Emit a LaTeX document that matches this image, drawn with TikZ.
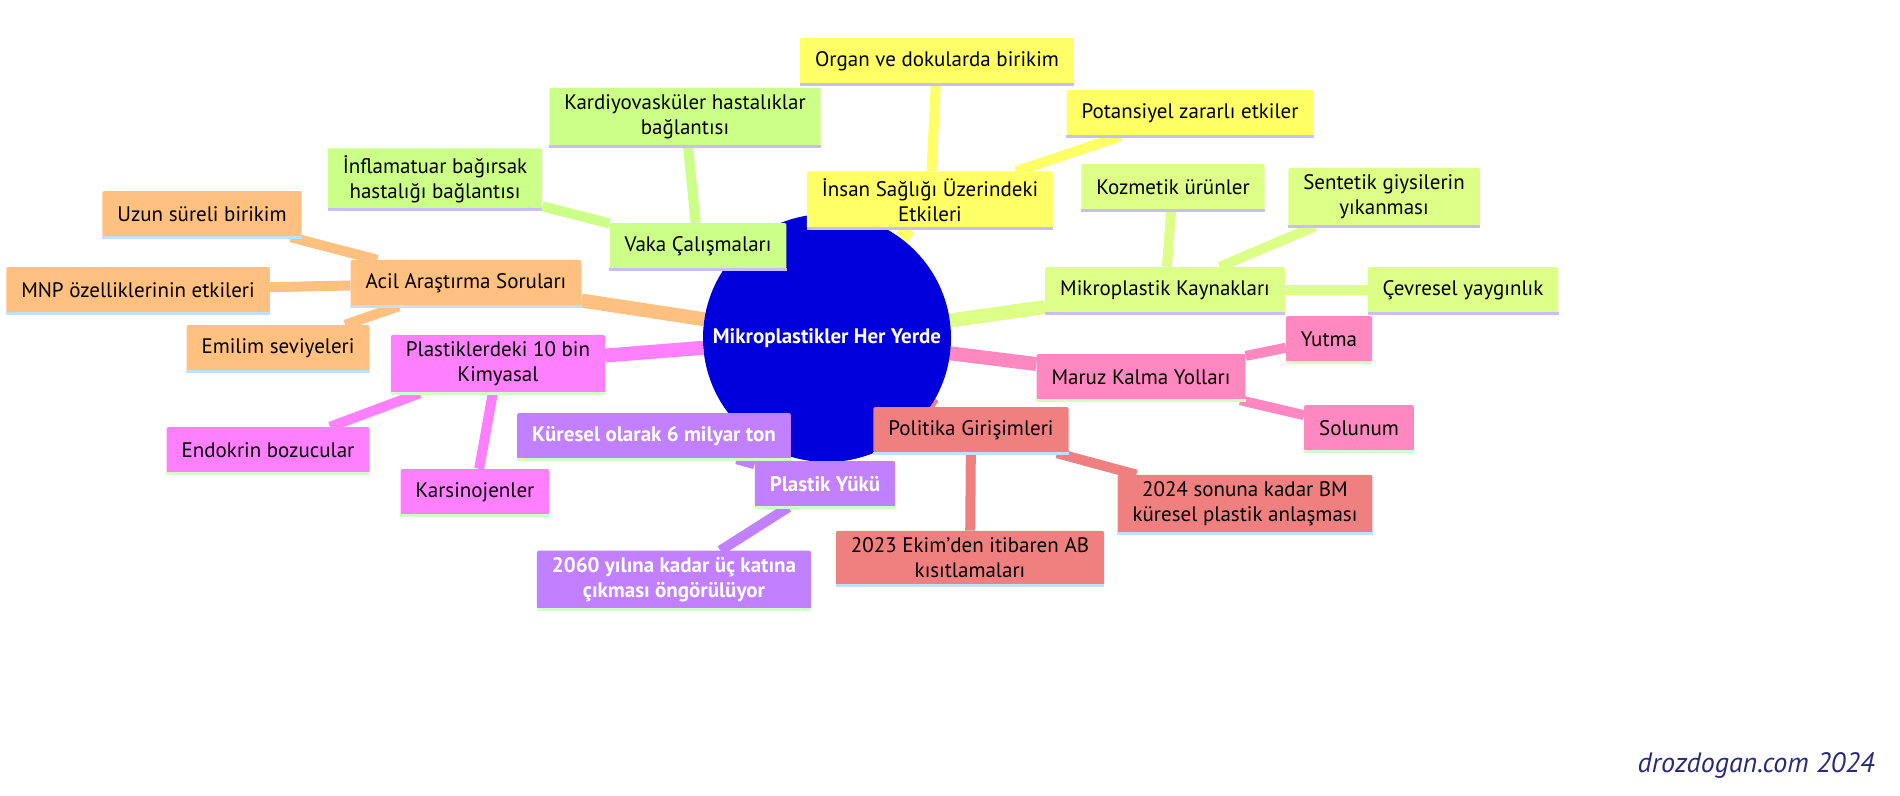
\documentclass[tikz,border=0pt]{standalone}
\usepackage{fontspec}
\setmainfont{PT Sans}
\usetikzlibrary{positioning}
\pgfdeclarelayer{bg}\pgfsetlayers{bg,main}
\definecolor{rootblue}{RGB}{0,0,221}
\definecolor{yel}{RGB}{255,255,102}
\definecolor{grn}{RGB}{204,255,136}
\definecolor{lim}{RGB}{221,255,136}
\definecolor{ora}{RGB}{255,192,128}
\definecolor{mag}{RGB}{255,128,255}
\definecolor{pur}{RGB}{192,128,255}
\definecolor{sal}{RGB}{240,128,128}
\definecolor{rose}{RGB}{255,136,192}
\definecolor{navy}{RGB}{40,40,120}
\definecolor{lav}{RGB}{200,190,255}
\definecolor{sky}{RGB}{190,225,255}
\definecolor{mint}{RGB}{210,255,200}

\begin{document}
\begin{tikzpicture}[x=1pt,y=-1pt,
    every node/.style={font=\fontsize{21}{25}\selectfont},
    box/.style={fill=#1,rounded corners=2pt,align=center,minimum height=46pt,inner xsep=15pt,inner ysep=7pt},
    wbox/.style={box=#1,text=white,font=\fontsize{21}{25}\selectfont\bfseries},
    root node/.style={circle,fill=rootblue,minimum size=248pt,text=white,font=\fontsize{21}{25}\selectfont\bfseries},
    main edge/.style={line width=14pt,draw=#1},
    leaf edge/.style={line width=10pt,draw=#1}]
  \useasboundingbox (0,0) rectangle (1900,795);

  % nodes
  \node[root node] (root) at (827,338) {Mikroplastikler Her Yerde};

  \node[box=yel] (saglik) at (930,200) {İnsan Sağlığı Üzerindeki\\Etkileri};
  \node[box=yel] (organ) at (937,61) {Organ ve dokularda birikim};
  \node[box=yel] (zarar) at (1190,113) {Potansiyel zararlı etkiler};

  \node[box=grn] (vaka) at (698,246) {Vaka Çalışmaları};
  \node[box=grn] (kardiyo) at (685,117) {Kardiyovasküler hastalıklar\\bağlantısı};
  \node[box=grn] (bagirsak) at (435,179) {İnflamatuar bağırsak\\hastalığı bağlantısı};

  \node[box=ora] (acil) at (466,283) {Acil Araştırma Soruları};
  \node[box=ora] (uzun) at (202,214) {Uzun süreli birikim};
  \node[box=ora] (mnp) at (138,290) {MNP özelliklerinin etkileri};
  \node[box=ora] (emilim) at (278,348) {Emilim seviyeleri};

  \node[box=mag] (kimya) at (498,364) {Plastiklerdeki 10 bin\\Kimyasal};
  \node[box=mag] (endo) at (268,450) {Endokrin bozucular};
  \node[box=mag] (karsi) at (475,492) {Karsinojenler};

  \node[wbox=pur] (yuk) at (825,484) {Plastik Yükü};
  \node[wbox=pur] (kuresel) at (654,436) {Küresel olarak 6 milyar ton};
  \node[wbox=pur] (uckat) at (674,580) {2060 yılına kadar üç katına\\çıkması öngörülüyor};

  \node[box=sal] (politika) at (971,430) {Politika Girişimleri};
  \node[box=sal] (ab) at (970,558) {2023 Ekim'den itibaren AB\\kısıtlamaları};
  \node[box=sal] (bm) at (1245,504) {2024 sonuna kadar BM\\küresel plastik anlaşması};

  \node[box=rose] (maruz) at (1141,377) {Maruz Kalma Yolları};
  \node[box=rose] (yutma) at (1329,339) {Yutma};
  \node[box=rose] (solunum) at (1359,428) {Solunum};

  \node[box=lim] (kaynak) at (1165,290) {Mikroplastik Kaynakları};
  \node[box=lim] (kozmetik) at (1173,187) {Kozmetik ürünler};
  \node[box=lim] (giysi) at (1384,197) {Sentetik giysilerin\\yıkanması};
  \node[box=lim] (cevre) at (1463,290) {Çevresel yaygınlık};

  \node[font=\fontsize{28}{32}\selectfont\itshape,text=navy,anchor=south east] (imza) at (1878,782) {drozdogan.com 2024};

  % underlines
  \foreach \n/\c in {saglik/lav,organ/lav,zarar/lav,vaka/lav,kardiyo/lav,bagirsak/lav,
      acil/sky,uzun/sky,mnp/sky,emilim/sky,kimya/mint,endo/mint,karsi/mint,
      yuk/mint,kuresel/mint,uckat/mint,politika/sky,ab/sky,bm/sky,
      maruz/mint,yutma/mint,solunum/mint,kaynak/lav,kozmetik/lav,giysi/lav,cevre/lav}
    \draw[line width=3pt,draw=\c] (\n.south west) -- (\n.south east);

  % connectors
  \begin{pgfonlayer}{bg}
    \draw[main edge=yel] (root) -- (saglik);
    \draw[leaf edge=yel] (saglik) -- (organ);
    \draw[leaf edge=yel] (saglik) -- (zarar);
    \draw[main edge=grn] (root) -- (vaka);
    \draw[leaf edge=grn] (vaka) -- (kardiyo);
    \draw[leaf edge=grn] (vaka) -- (bagirsak);
    \draw[main edge=ora] (root) -- (acil);
    \draw[leaf edge=ora] (acil) -- (uzun);
    \draw[leaf edge=ora] (acil) -- (mnp);
    \draw[leaf edge=ora] (acil) -- (emilim);
    \draw[main edge=mag] (root) -- (kimya);
    \draw[leaf edge=mag] (kimya) -- (endo);
    \draw[leaf edge=mag] (kimya) -- (karsi);
    \draw[main edge=pur] (root) -- (yuk);
    \draw[leaf edge=pur] (yuk) -- (kuresel);
    \draw[leaf edge=pur] (yuk) -- (uckat);
    \draw[main edge=sal] (root) -- (politika);
    \draw[leaf edge=sal] (politika) -- (ab);
    \draw[leaf edge=sal] (politika) -- (bm);
    \draw[main edge=rose] (root) -- (maruz);
    \draw[leaf edge=rose] (maruz) -- (yutma);
    \draw[leaf edge=rose] (maruz) -- (solunum);
    \draw[main edge=lim] (root) -- (kaynak);
    \draw[leaf edge=lim] (kaynak) -- (kozmetik);
    \draw[leaf edge=lim] (kaynak) -- (giysi);
    \draw[leaf edge=lim] (kaynak) -- (cevre);
  \end{pgfonlayer}
\end{tikzpicture}
\end{document}
